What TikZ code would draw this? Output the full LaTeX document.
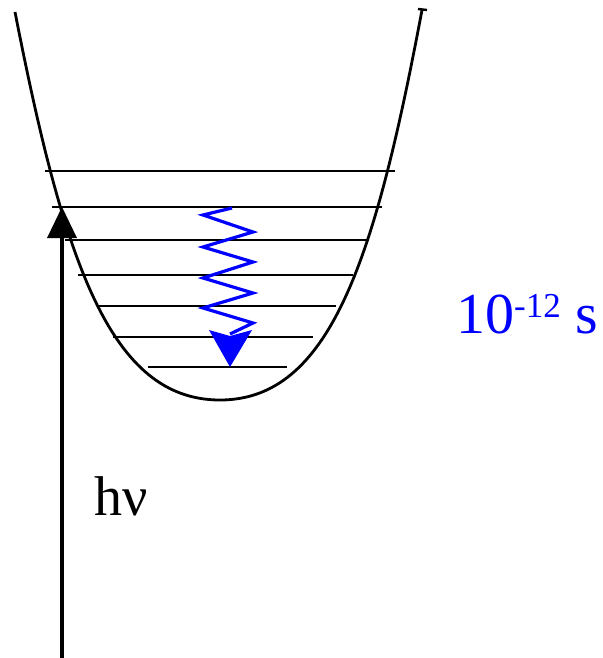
\documentclass[tikz,border=0pt]{standalone}
\usepackage{fontspec}
\setmainfont{Liberation Serif}
\definecolor{zblue}{RGB}{0,0,255}
\tikzset{
  well/.style={line width=2.8pt, black},
  level/.style={line width=2.8pt, black},
  pump/.style={line width=3.2pt, black},
  relax/.style={line width=3.2pt, zblue, line join=miter},
  lbl/.style={inner sep=0pt, anchor=base west, font=\fontsize{56}{60}\selectfont}
}
\begin{document}
\begin{tikzpicture}[x=1pt,y=-1pt]
\useasboundingbox (0,0) rectangle (602,658);
% potential well
\coordinate (wl) at (15,12);
\coordinate (wb) at (220,400);
\coordinate (wr) at (422,10);
\draw[well] (wl) .. controls (64,262) and (110,400) .. (wb)
            .. controls (330,400) and (375,260) .. (wr);
\draw[line width=2.4pt] (418,9) -- (427,10);
% vibrational levels
\foreach \i/\y/\xa/\xb in {1/171/45/395, 2/207/52/382, 3/240/65/367, 4/275/78/353, 5/306/99/336, 6/337/113/313, 7/367/148/287}{
  \coordinate (l\i a) at (\xa,\y);
  \coordinate (l\i b) at (\xb,\y);
  \draw[level] (l\i a) -- (l\i b);
}
% excitation arrow
\coordinate (pbot) at (62,658);
\coordinate (ptop) at (62,236);
\coordinate (ptip) at (62,207);
\draw[pump] (pbot) -- (ptop);
\fill[black] (ptip) -- (77,238) -- (47,238) -- cycle;
% relaxation zigzag
\coordinate (zs) at (232,208);
\coordinate (ze) at (230,334);
\coordinate (ztip) at (230,367);
\draw[relax] (zs) -- (203,215) -- (253,232) -- (203,247) -- (253,262) -- (203,278) -- (253,293) -- (203,308) -- (253,323) -- (ze);
\fill[zblue] (ztip) -- (252,330) -- (230,336) -- (209,330) -- cycle;
% labels
\node[lbl] (hnu) at (94,515) {hν};
\node[lbl, text=zblue, font=\fontsize{58}{62}\selectfont] (time) at (456,333) {10\raisebox{16pt}{\fontsize{35}{38}\selectfont -12} s};
\end{tikzpicture}
\end{document}
